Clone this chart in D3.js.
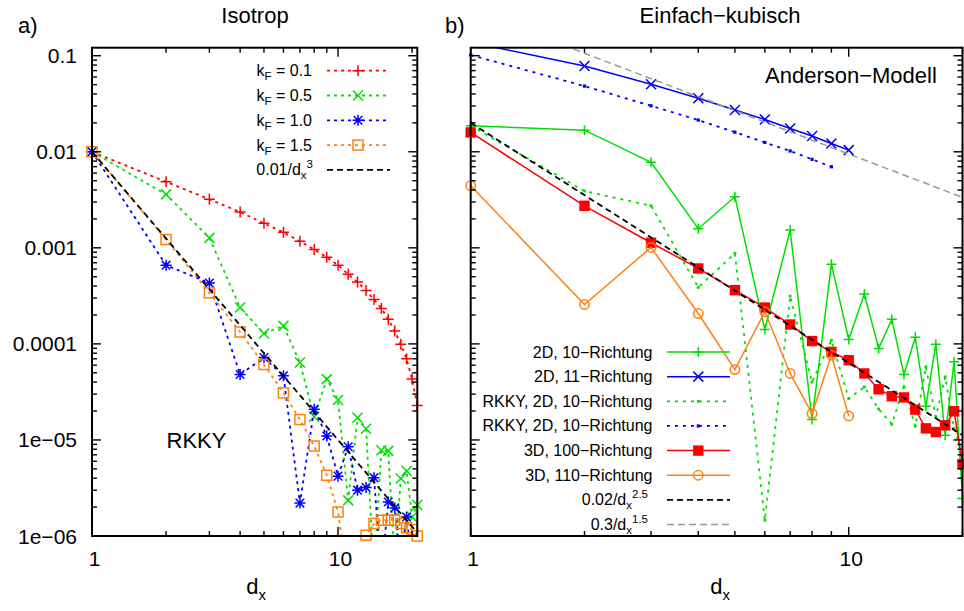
<!DOCTYPE html>
<html><head><meta charset="utf-8">
<script src="https://cdn.jsdelivr.net/npm/d3@7"></script>
<style>
body{margin:0;background:#fff}
svg{display:block}
text{font-family:"Liberation Sans",Arial,Helvetica,sans-serif;fill:#000}
</style>
</head><body>
<svg id="c" width="964" height="611"></svg>
<script>
// ---------- data: panel a) Isotrop (RKKY) ----------
const dxLeft = [1,2,3,4,5,6,7,8,9,10,11,12,13,14,15,16,17,18,19,20,21];
const kF01 = [0.01,0.00487,0.0032,0.00236,0.0018,0.00145,0.00117,0.00096,0.0008,0.00066,0.00053,0.00044,0.00036,0.00029,2.34e-4,1.8e-4,1.36e-4,9.9e-5,7.0e-5,4.3e-5,2.28e-5];
const kF05 = [0.01,0.0036,0.00127,2.39e-4,1.28e-4,1.54e-4,6.4e-5,1.74e-5,4.3e-5,2.6e-5,2.35e-6,1.7e-5,1.31e-5,4e-7,7.8e-6,7.7e-6,5e-7,3.96e-6,4.75e-6,1.58e-6,2.1e-6];
const kF10 = [0.01,6.6e-4,4.3e-4,4.8e-5,7.2e-5,4.65e-5,2.2e-6,2.09e-5,1.1e-5,4.2e-6,8.5e-6,3.0e-6,3.2e-6,4.05e-6,4e-7,2.26e-6,1.96e-6,6e-7,1.58e-6,5e-7,6e-7];
const kF15 = [0.01,1.22e-3,3.4e-4,1.33e-4,6.1e-5,3.09e-5,1.63e-5,8.65e-6,4.29e-6,1.78e-6,3e-7,4e-7,1.02e-6,1.35e-6,1.46e-6,1.46e-6,1.46e-6,1.35e-6,1.22e-6,1.17e-6,1.0e-6];
const fitLeftX = [1,21];
const fitLeftY = [0.01,1.08e-6];            // 0.01/dx^3
const legendLeft = ["0.1","0.5","1.0","1.5"];

// ---------- data: panel b) Einfach-kubisch (Anderson) ----------
const dxRight = [1,2,3,4,5,6,7,8,9,10,11,12,13,14,15,16,17,18,19,20];
const d2_10 = [0.0187,0.0168,0.00776,0.00158,0.0034,1.41e-4,0.00153,1.63e-5,6.76e-4,1.11e-4,3.3e-4,8.95e-5,1.8e-4,4.8e-5,1.17e-4,2.24e-5,9.92e-5,1.12e-5,6.5e-5,2.45e-6];
const d2_11 = [0.138,0.0782,0.0504,0.036,0.0272,0.0217,0.0175,0.0146,0.0122,0.0104];
const rkky2_10g = [0.0187,0.0039,0.00274,3.87e-4,8.75e-4,1.46e-6,3.14e-4,4e-5,1.09e-4,2.7e-5,3.56e-5,2.1e-5,1.46e-5,3.56e-5,1.39e-5,5.76e-5,1.74e-5,4.53e-5,1.32e-5,7e-6];
const rkky2_10b = [0.1016,0.0483,0.0301,0.0214,0.016,0.0125,0.0102,0.00834,0.00698];
const d3_100 = [0.0159,0.00274,0.00113,6.1e-4,3.63e-4,2.39e-4,1.59e-4,1.07e-4,8.25e-5,6.76e-5,4.92e-5,3.37e-5,2.85e-5,2.77e-5,2.07e-5,1.32e-5,1.21e-5,1.42e-5,1.99e-5,5.6e-6];
const d3_110 = [0.00443,2.57e-4,0.00101,2.07e-4,5.4e-5,2.16e-4,4.92e-5,1.88e-5,7.62e-5,1.78e-5];
const fitRightX = [1,20];
const fitR25 = [0.02,1.12e-5];   // 0.02/dx^2.5
const fitR15 = [0.3,0.00335];    // 0.3/dx^1.5

const yTickLabels = ["1e\u221206","1e\u221205","0.0001","0.001","0.01","0.1"];
const yTickValues = [1e-6,1e-5,1e-4,1e-3,1e-2,1e-1];
const xTickValues = [1,10];
const xTickLabels = ["1","10"];

// ---------- layout ----------
const svg = d3.select("#c");
const yTop = 47.7, yBot = 536;
const y = d3.scaleLog().domain([1e-6,0.1212]).range([yBot,yTop]);
const xL = d3.scaleLog().domain([1,21]).range([92,417.3]);
const xR = d3.scaleLog().domain([1,20]).range([470.7,962.5]);

const C = {red:"#ff0000",green:"#00e000",blue:"#0000ff",orange:"#ff8010",gray:"#999999",black:"#000000"};

function sym(g,type,cx,cy,color,s){
  if(type==="plus"){
    g.append("path").attr("d",`M${cx-s},${cy}H${cx+s}M${cx},${cy-s}V${cy+s}`).attr("stroke",color).attr("stroke-width",1.5).attr("fill","none");
  } else if(type==="cross"){
    g.append("path").attr("d",`M${cx-s},${cy-s}L${cx+s},${cy+s}M${cx-s},${cy+s}L${cx+s},${cy-s}`).attr("stroke",color).attr("stroke-width",1.5).attr("fill","none");
  } else if(type==="star"){
    const t=s*0.78;
    g.append("path").attr("d",`M${cx-s},${cy}H${cx+s}M${cx},${cy-s}V${cy+s}M${cx-t},${cy-t}L${cx+t},${cy+t}M${cx-t},${cy+t}L${cx+t},${cy-t}`).attr("stroke",color).attr("stroke-width",1.5).attr("fill","none");
  } else if(type==="osq"){
    g.append("rect").attr("x",cx-s).attr("y",cy-s).attr("width",2*s).attr("height",2*s).attr("stroke",color).attr("stroke-width",1.5).attr("fill","none");
  } else if(type==="fsq"){
    g.append("rect").attr("x",cx-s).attr("y",cy-s).attr("width",2*s).attr("height",2*s).attr("fill",color);
  } else if(type==="ocirc"){
    g.append("circle").attr("cx",cx).attr("cy",cy).attr("r",s).attr("stroke",color).attr("stroke-width",1.5).attr("fill","none");
  } else if(type==="dot"){
    g.append("rect").attr("x",cx-s).attr("y",cy-s).attr("width",2*s).attr("height",2*s).attr("fill",color);
  }
}

const defs = svg.append("defs");
defs.append("clipPath").attr("id","clipL").append("rect").attr("x",92).attr("y",yTop).attr("width",417.3-92).attr("height",yBot-yTop);
defs.append("clipPath").attr("id","clipR").append("rect").attr("x",470.7).attr("y",yTop).attr("width",962.5-470.7).attr("height",yBot-yTop);

function series(x, xs, ys, clip, color, dash, width, mark, ms){
  const pts = ys.map((v,i)=>[xs[i],v]);
  const line = d3.line().x(d=>x(d[0])).y(d=>y(d[1]));
  svg.append("path").attr("d",line(pts)).attr("clip-path",`url(#${clip})`)
    .attr("fill","none").attr("stroke",color).attr("stroke-width",width)
    .attr("stroke-dasharray",dash||null);
  if(mark){
    const g = svg.append("g");
    pts.forEach(d=>{ if(d[1]>=0.99e-6 && d[1]<=0.1212) sym(g,mark,x(d[0]),y(d[1]),color,ms); });
  }
}

// ---------- frames and ticks ----------
function frame(x, x0, x1, labelsY){
  const g = svg.append("g").attr("stroke","#000").attr("fill","none");
  y.ticks().forEach(v=>{
    const major = Math.abs(Math.log10(v)-Math.round(Math.log10(v)))<1e-9;
    const L = major?9:5, py=y(v);
    g.append("line").attr("x1",x0).attr("x2",x0+L).attr("y1",py).attr("y2",py).attr("stroke-width",1.4);
    g.append("line").attr("x1",x1).attr("x2",x1-L).attr("y1",py).attr("y2",py).attr("stroke-width",1.4);
  });
  x.ticks().forEach(v=>{
    const major = Math.abs(Math.log10(v)-Math.round(Math.log10(v)))<1e-9;
    const L = major?9:5, px=x(v);
    g.append("line").attr("x1",px).attr("x2",px).attr("y1",yBot).attr("y2",yBot-L).attr("stroke-width",1.4);
    g.append("line").attr("x1",px).attr("x2",px).attr("y1",yTop).attr("y2",yTop+L).attr("stroke-width",1.4);
  });
  g.append("rect").attr("x",x0).attr("y",yTop).attr("width",x1-x0).attr("height",yBot-yTop).attr("stroke-width",2);
  xTickValues.forEach((v,i)=>{
    svg.append("text").attr("x",x(v)+2.5).attr("y",566).attr("text-anchor","middle").attr("font-size",21).text(xTickLabels[i]);
  });
  if(labelsY){
    yTickValues.forEach((v,i)=>{
      svg.append("text").attr("x",x0-15).attr("y",y(v)+7.5).attr("text-anchor","end").attr("font-size",21).text(yTickLabels[i]);
    });
  }
}

// ---------- panel a ----------
series(xL,dxLeft,kF01,"clipL",C.red,"3,4",1.8,"plus",5.5);
series(xL,dxLeft,kF05,"clipL",C.green,"3,4",1.8,"cross",5);
series(xL,dxLeft,kF10,"clipL",C.blue,"3,4",1.8,"star",5.5);
series(xL,dxLeft,kF15,"clipL",C.orange,"3,4",1.8,"osq",5);
series(xL,fitLeftX,fitLeftY,"clipL",C.black,"6,4",1.8,null);
frame(xL,92,417.3,true);

// ---------- panel b ----------
series(xR,dxRight,d2_10,"clipR",C.green,null,1.5,"plus",5);
series(xR,dxRight.slice(0,d2_11.length),d2_11,"clipR",C.blue,null,1.5,"cross",5);
series(xR,dxRight,rkky2_10g,"clipR",C.green,"3,5",1.8,"dot",1.4);
series(xR,dxRight.slice(0,rkky2_10b.length),rkky2_10b,"clipR",C.blue,"3,5",1.8,"dot",1.6);
series(xR,dxRight,d3_100,"clipR",C.red,null,1.5,"fsq",5.2);
series(xR,dxRight.slice(0,d3_110.length),d3_110,"clipR",C.orange,null,1.5,"ocirc",4.7);
series(xR,fitRightX,fitR25,"clipR",C.black,"6,4",1.8,null);
series(xR,fitRightX,fitR15,"clipR",C.gray,"7,4",1.5,null);
frame(xR,470.7,962.5,false);

// ---------- texts ----------
svg.append("text").attr("x",255).attr("y",23).attr("text-anchor","middle").attr("font-size",22).text("Isotrop");
svg.append("text").attr("x",720).attr("y",22.5).attr("text-anchor","middle").attr("font-size",22).text("Einfach\u2212kubisch");
svg.append("text").attr("x",18).attr("y",33).attr("font-size",22).text("a)");
svg.append("text").attr("x",445).attr("y",33).attr("font-size",22).text("b)");
svg.append("text").attr("x",166.5).attr("y",447.5).attr("font-size",22).text("RKKY");
svg.append("text").attr("x",765).attr("y",83).attr("font-size",22).text("Anderson\u2212Modell");
function dxLabel(cx){
  const t = svg.append("text").attr("x",cx).attr("y",594).attr("text-anchor","middle").attr("font-size",22);
  t.append("tspan").text("d");
  t.append("tspan").attr("font-size",15).attr("dy",6).text("x");
}
dxLabel(256); dxLabel(720);

// ---------- legend a ----------
const legL = [
  {c:C.red,m:"plus",ms:5.5},{c:C.green,m:"cross",ms:5},{c:C.blue,m:"star",ms:5.5},{c:C.orange,m:"osq",ms:5}
];
legL.forEach((d,i)=>{
  const ly = 70.7 + i*24.8;
  svg.append("line").attr("x1",327).attr("x2",388).attr("y1",ly).attr("y2",ly).attr("stroke",d.c).attr("stroke-width",1.8).attr("stroke-dasharray","3,4");
  sym(svg.append("g"),d.m,358,ly,d.c,d.ms);
  const t = svg.append("text").attr("x",312).attr("y",ly+5.5).attr("text-anchor","end").attr("font-size",16);
  t.append("tspan").text("k");
  t.append("tspan").attr("font-size",11.5).attr("dy",4).text("F");
  t.append("tspan").attr("dy",-4).text(" = "+legendLeft[i]);
});
{
  const ly = 70.7 + 4*24.8;
  svg.append("line").attr("x1",327).attr("x2",390).attr("y1",ly).attr("y2",ly).attr("stroke","#000").attr("stroke-width",1.8).attr("stroke-dasharray","6,4");
  const t = svg.append("text").attr("x",313).attr("y",ly+5.5).attr("text-anchor","end").attr("font-size",16);
  t.append("tspan").text("0.01/d");
  t.append("tspan").attr("font-size",11.5).attr("dy",4).text("x");
  t.append("tspan").attr("font-size",11.5).attr("dy",-11).text("3");
}

// ---------- legend b ----------
const legR = [
  {t:"2D, 10\u2212Richtung",c:C.green,dash:null,w:1.5,m:"plus",ms:5},
  {t:"2D, 11\u2212Richtung",c:C.blue,dash:null,w:1.5,m:"cross",ms:5},
  {t:"RKKY, 2D, 10\u2212Richtung",c:C.green,dash:"3,5",w:1.8,m:"dot",ms:1.4},
  {t:"RKKY, 2D, 10\u2212Richtung",c:C.blue,dash:"3,5",w:1.8,m:"dot",ms:1.6},
  {t:"3D, 100\u2212Richtung",c:C.red,dash:null,w:1.5,m:"fsq",ms:5.2},
  {t:"3D, 110\u2212Richtung",c:C.orange,dash:null,w:1.5,m:"ocirc",ms:4.7}
];
legR.forEach((d,i)=>{
  const ly = 352 + i*24.65;
  svg.append("line").attr("x1",667).attr("x2",730).attr("y1",ly).attr("y2",ly).attr("stroke",d.c).attr("stroke-width",d.w).attr("stroke-dasharray",d.dash);
  sym(svg.append("g"),d.m,698.3,ly,d.c,d.ms);
  svg.append("text").attr("x",652.5).attr("y",ly+5.5).attr("text-anchor","end").attr("font-size",16).text(d.t);
});
[["0.02/d","2.5",C.black,"6,4",1.8],["0.3/d","1.5",C.gray,"7,4",1.5]].forEach((d,j)=>{
  const ly = 352 + (6+j)*24.65;
  svg.append("line").attr("x1",667).attr("x2",730).attr("y1",ly).attr("y2",ly).attr("stroke",d[2]).attr("stroke-width",d[4]).attr("stroke-dasharray",d[3]);
  const t = svg.append("text").attr("x",648).attr("y",ly+5.5).attr("text-anchor","end").attr("font-size",16);
  t.append("tspan").text(d[0]);
  t.append("tspan").attr("font-size",11.5).attr("dy",4).text("x");
  t.append("tspan").attr("font-size",11.5).attr("dy",-11).text(d[1]);
});
</script>
</body></html>
